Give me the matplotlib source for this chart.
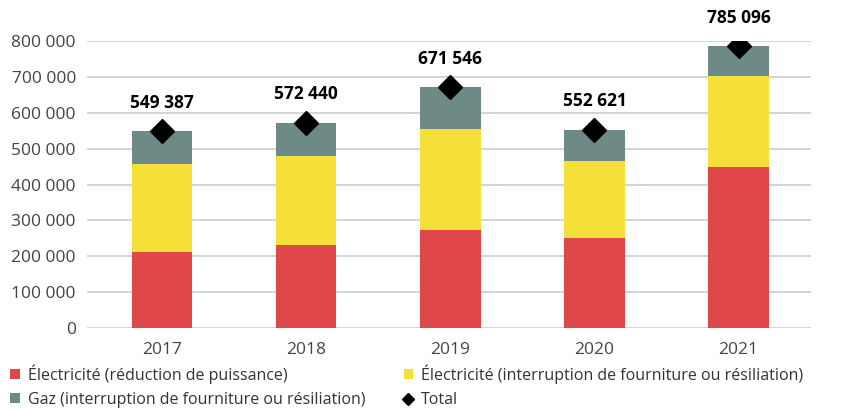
import matplotlib.pyplot as plt
from matplotlib.lines import Line2D
import numpy as np

plt.rcParams['font.family'] = ['Open Sans', 'DejaVu Sans']

years = ['2017', '2018', '2019', '2020', '2021']
elec_reduction = [213000, 232000, 274000, 252000, 450000]
elec_interruption = [244000, 246500, 281000, 215000, 254000]
totals = [549387, 572440, 671546, 552621, 785096]
# gas is whatever remains of the total
gaz = [t - r - i for t, r, i in zip(totals, elec_reduction, elec_interruption)]

total_labels = ['549 387', '572 440', '671 546', '552 621', '785 096']
ytick_values = [0, 100000, 200000, 300000, 400000, 500000, 600000, 700000, 800000]
ytick_labels = ['0', '100 000', '200 000', '300 000', '400 000',
                '500 000', '600 000', '700 000', '800 000']

red = '#e0474a'
yellow = '#f5e03a'
grey = '#6e8a87'

fig = plt.figure(figsize=(8.48, 4.11), dpi=100)
ax = fig.add_axes([0.1026, 0.202, 0.8534, 0.698])

x = np.arange(len(years))
w = 0.42
b1 = ax.bar(x, elec_reduction, w, color=red, zorder=2,
            label='Électricité (réduction de puissance)')
b2 = ax.bar(x, elec_interruption, w, bottom=elec_reduction, color=yellow, zorder=2,
            label='Électricité (interruption de fourniture ou résiliation)')
bottom_gaz = [r + i for r, i in zip(elec_reduction, elec_interruption)]
b3 = ax.bar(x, gaz, w, bottom=bottom_gaz, color=grey, zorder=2,
            label='Gaz (interruption de fourniture ou résiliation)')
ax.plot(x, totals, linestyle='none', marker='D', markersize=12,
        color='black', zorder=3)

for xi, t, lab in zip(x, totals, total_labels):
    ax.annotate(lab, (xi, t), xytext=(0, 14), textcoords='offset points',
                ha='center', va='bottom', fontsize=12.5, fontweight='bold',
                color='black', annotation_clip=False)

ax.set_xlim(-0.52, 4.5)
ax.set_ylim(0, 800000)
ax.set_yticks(ytick_values)
ax.set_yticklabels(ytick_labels)
ax.set_xticks(x)
ax.set_xticklabels(years)
ax.tick_params(axis='both', length=0, labelsize=12.5, colors='#444444')
ax.tick_params(axis='y', pad=8)
ax.tick_params(axis='x', pad=10)
ax.grid(axis='y', color='#d4d4d4', linewidth=1.4, zorder=0)
ax.set_axisbelow(True)
for s in ax.spines.values():
    s.set_visible(False)

# smaller diamond for the legend entry
tot_handle = Line2D([], [], linestyle='none', marker='D', markersize=6, color='black')

fig.legend([b1, b3, b2, tot_handle],
           [b1.get_label(), b3.get_label(), b2.get_label(), 'Total'],
           ncol=2, loc='upper left', bbox_to_anchor=(0.012, 0.113),
           frameon=False, fontsize=11.5, handlelength=0.6, handleheight=0.6,
           handletextpad=0.5, columnspacing=2.4, labelspacing=0.5,
           borderaxespad=0, borderpad=0, labelcolor='#333333')

fig.savefig('out.png', dpi=100)
